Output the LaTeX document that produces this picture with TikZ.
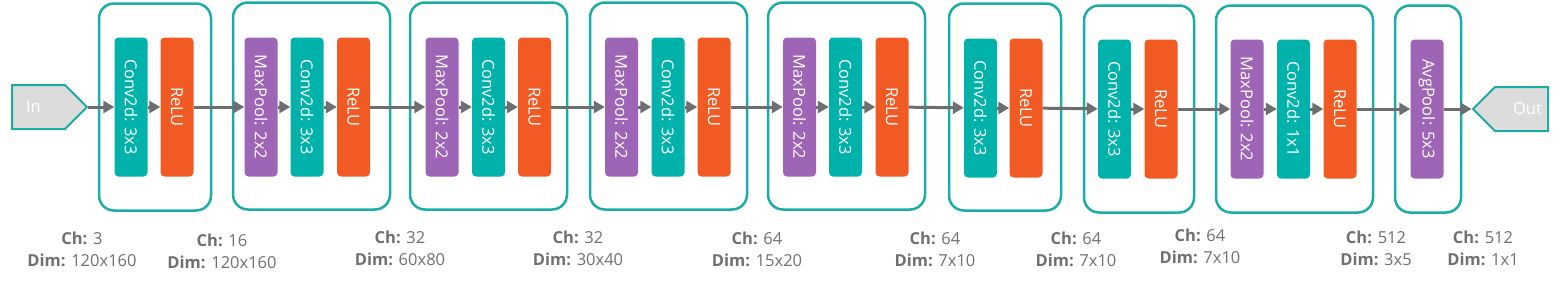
\documentclass[tikz,border=0pt]{standalone}
\usepackage{fontspec}
\setmainfont{Open Sans}
\usepackage{tikz}
\usetikzlibrary{
  arrows.meta,
  positioning,
  shapes.symbols
}
\definecolor{convteal}{RGB}{0,178,169}
\definecolor{stageteal}{RGB}{26,173,165}
\definecolor{reluorange}{RGB}{241,90,34}
\definecolor{poolpurple}{RGB}{158,100,182}
\definecolor{flowgray}{RGB}{109,110,113}
\definecolor{portgray}{RGB}{220,220,220}
\definecolor{infogray}{RGB}{112,112,112}
\tikzset{>={Triangle[length=11pt,width=12pt]}}

\begin{document}
\begin{tikzpicture}[x=1pt,y=-1pt,
    layer/.style={rounded corners=4pt, minimum width=139pt, minimum height=33pt,
      inner sep=0pt, rotate=-90, text=white, font=\fontsize{16.5}{16}\selectfont},
    conv/.style={layer, fill=convteal},
    relu/.style={layer, fill=reluorange},
    pool/.style={layer, fill=poolpurple},
    stage/.style={draw=stageteal, line width=2.5pt, rounded corners=15pt,
      minimum height=207pt, inner sep=0pt},
    port/.style={signal, draw=stageteal, fill=portgray, line width=2pt,
      minimum width=75pt, minimum height=44pt},
    porttext/.style={text=white, font=\fontsize{16.5}{16}\selectfont},
    flow/.style={->, draw=flowgray, line width=3pt},
    info/.style={align=center, text=infogray, font=\fontsize{16.5}{22}\selectfont}
  ]
  \useasboundingbox (0,0) rectangle (1561,284);

  % stages
  \node[stage, minimum width=112pt] (stage1) at (155,107) {};
  \node[stage, minimum width=157pt] (stage2) at (311.5,106) {};
  \node[stage, minimum width=157pt] (stage3) at (488.5,106) {};
  \node[stage, minimum width=157pt] (stage4) at (668.5,106) {};
  \node[stage, minimum width=157pt] (stage5) at (846.5,106) {};
  \node[stage, minimum width=112pt] (stage6) at (1005,107) {};
  \node[stage, minimum width=110pt] (stage7) at (1139,109) {};
  \node[stage, minimum width=157pt] (stage8) at (1294.5,109) {};
  \node[stage, minimum width=66pt]  (stage9) at (1428,109) {};

  % layers
  \node[conv] (conv1) at (131,107) {Conv2d: 3x3};
  \node[relu] (relu1) at (177,107) {ReLU};

  \node[pool] (pool2) at (261,107) {MaxPool: 2x2};
  \node[conv] (conv2) at (307,107) {Conv2d: 3x3};
  \node[relu] (relu2) at (353.5,107) {ReLU};

  \node[pool] (pool3) at (442,107) {MaxPool: 2x2};
  \node[conv] (conv3) at (488.5,107) {Conv2d: 3x3};
  \node[relu] (relu3) at (534.5,107) {ReLU};

  \node[pool] (pool4) at (621.5,107) {MaxPool: 2x2};
  \node[conv] (conv4) at (668,107) {Conv2d: 3x3};
  \node[relu] (relu4) at (714,107) {ReLU};

  \node[pool] (pool5) at (799.5,107) {MaxPool: 2x2};
  \node[conv] (conv5) at (845.5,107) {Conv2d: 3x3};
  \node[relu] (relu5) at (892,107) {ReLU};

  \node[conv] (conv6) at (980.5,108) {Conv2d: 3x3};
  \node[relu] (relu6) at (1026,108) {ReLU};

  \node[conv] (conv7) at (1114.5,109) {Conv2d: 3x3};
  \node[relu] (relu7) at (1161,109) {ReLU};

  \node[pool] (pool8) at (1247,109) {MaxPool: 2x2};
  \node[conv] (conv8) at (1293.5,109) {Conv2d: 1x1};
  \node[relu] (relu8) at (1340,109) {ReLU};

  \node[pool] (avg9) at (1427,109) {AvgPool: 5x3};

  % in and out
  \node[port, signal to=east,
    label={[porttext, xshift=-5pt]center:In}] (in) at (38.5,107) {};
  \node[port, signal to=west,
    label={[porttext, xshift=6pt]center:Out}] (out) at (1521.5,109) {};

  \foreach \a/\b in {in/conv1, conv1/relu1, relu1/pool2, pool2/conv2, conv2/relu2,
      relu2/pool3, pool3/conv3, conv3/relu3, relu3/pool4, pool4/conv4, conv4/relu4,
      relu4/pool5, pool5/conv5, conv5/relu5, relu5/conv6, conv6/relu6,
      relu6/conv7, conv7/relu7, relu7/pool8, pool8/conv8, conv8/relu8,
      relu8/avg9, avg9/out}
    \draw[flow] (\a) -- (\b);

  % shapes
  \node[info] (info1) at (82,249) {\textbf{Ch:} 3\\\textbf{Dim:} 120x160};
  \node[info] (info2) at (222,251) {\textbf{Ch:} 16\\\textbf{Dim:} 120x160};
  \node[info] (info3) at (400,248) {\textbf{Ch:} 32\\\textbf{Dim:} 60x80};
  \node[info] (info4) at (578,248.5) {\textbf{Ch:} 32\\\textbf{Dim:} 30x40};
  \node[info] (info5) at (757,249) {\textbf{Ch:} 64\\\textbf{Dim:} 15x20};
  \node[info] (info6) at (935,249) {\textbf{Ch:} 64\\\textbf{Dim:} 7x10};
  \node[info] (info7) at (1076,249) {\textbf{Ch:} 64\\\textbf{Dim:} 7x10};
  \node[info] (info8) at (1200,246) {\textbf{Ch:} 64\\\textbf{Dim:} 7x10};
  \node[info] (info9) at (1376,248.5) {\textbf{Ch:} 512\\\textbf{Dim:} 3x5};
  \node[info] (info10) at (1483,248.5) {\textbf{Ch:} 512\\\textbf{Dim:} 1x1};
\end{tikzpicture}
\end{document}
